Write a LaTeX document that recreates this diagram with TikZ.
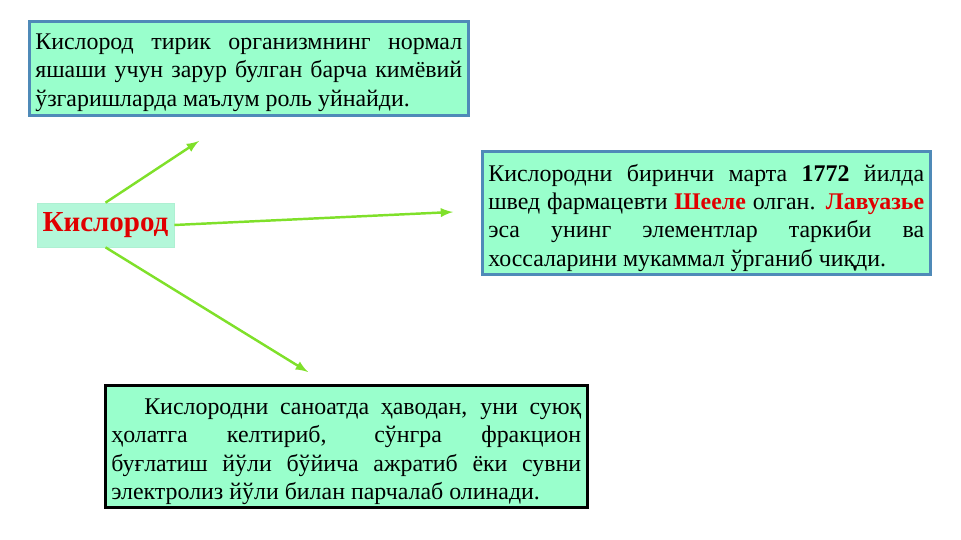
\documentclass[tikz,border=0pt]{standalone}
\usepackage{fontspec}
\setmainfont{Liberation Serif}
\usetikzlibrary{positioning}

\definecolor{mint}{HTML}{99FFCC}
\definecolor{palemint}{HTML}{B3F7D9}
\definecolor{boxblue}{HTML}{4F8AB8}
\definecolor{lime}{HTML}{7FE02A}
\definecolor{redtext}{HTML}{E00000}

\tikzset{
  infobox/.style={draw=boxblue, line width=1.5pt, fill=mint, anchor=north west,
    align=justify, inner xsep=0.12cm, inner ysep=0pt,
    font=\fontsize{13.6}{16.2}\selectfont},
  mainbox/.style={fill=palemint, draw=palemint!85!black!20!palemint, minimum width=2.74cm,
    minimum height=0.88cm, inner sep=0pt, text=redtext,
    font=\fontsize{16.5}{18}\selectfont\bfseries},
  link/.style={draw=lime, line width=1.4pt, ->, >=latex}
}
% strut that pushes the first line down
\newcommand{\topgap}[1]{\rule{0pt}{#1}}

\begin{document}
\begin{tikzpicture}[x=0.02cm, y=-0.02cm]
\useasboundingbox (0,0) rectangle (961,540);
\tolerance=9999 \emergencystretch=1cm

% the three text boxes
\node [infobox, text width=8.54cm, minimum height=1.88cm] (life) at (28,20)
  {\topgap{13.7pt}Кислород тирик организмнинг нормал\linebreak яшаши учун зарур булган барча кимёвий\linebreak ўзгаришларда маълум роль уйнайди.};

\node [infobox, text width=8.72cm, minimum height=2.46cm] (history) at (481,150)
  {\topgap{15.4pt}Кислородни биринчи марта \textbf{1772} йилда\linebreak швед фармацевти \textcolor{redtext}{\textbf{Шееле}} олган. \textcolor{redtext}{\textbf{Лавуазье}}\linebreak эса унинг элементлар таркиби ва\linebreak хоссаларини мукаммал ўрганиб чиқди.};

\node [infobox, draw=black, text width=9.4cm, minimum height=2.44cm] (industry) at (104,384)
  {\topgap{15pt}\hspace*{0.66cm}Кислородни саноатда ҳаводан, уни суюқ\linebreak ҳолатга келтириб, сўнгра фракцион\linebreak буғлатиш йўли бўйича ажратиб ёки сувни\linebreak электролиз йўли билан парчалаб олинади.};

% centre word
\node [mainbox] (oxygen) at (105.5,225) {\raisebox{-0.05cm}{Кислород}};

% free ends of the arrows
\coordinate (tipup) at (199,141);
\coordinate (tipright) at (453,212);
\coordinate (tipdown) at (308,372);

% arrows
\draw [link] (oxygen.north) -- (tipup);
\draw [link] (oxygen.east) -- (tipright);
\draw [link] (oxygen.south) -- (tipdown);
\end{tikzpicture}
\end{document}
